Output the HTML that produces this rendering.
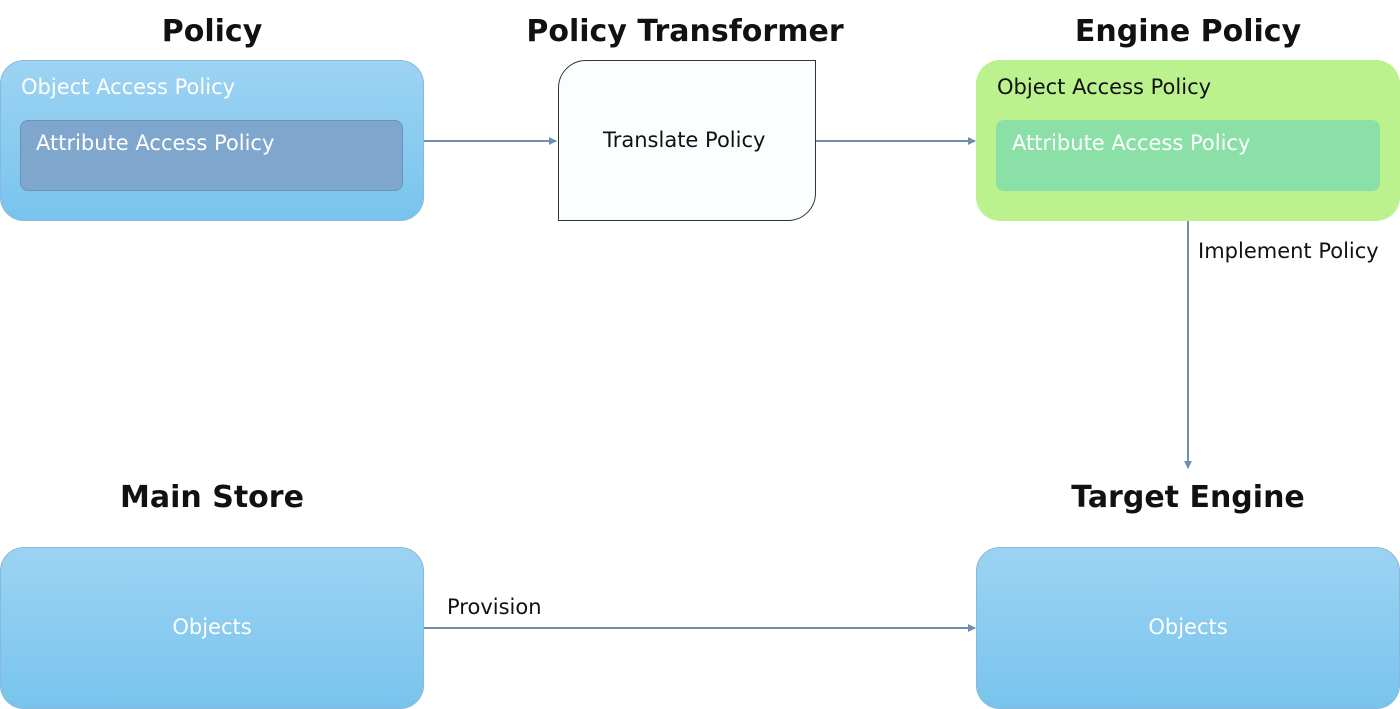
<!DOCTYPE html>
<html><head><style>
body{margin:0;width:1400px;height:709px;background:#fff;position:relative;overflow:hidden;font-family:"DejaVu Sans","Liberation Sans",sans-serif}
.t{position:absolute;font-weight:bold;font-size:30px;color:#111;transform:translateX(-50%);white-space:nowrap}
.b{position:absolute;box-sizing:border-box}
.blue{background:linear-gradient(#9dd3f3,#78c4ee);border:1px solid #8ab8d8;border-radius:24px}
.lbl{position:absolute;font-size:21px;white-space:nowrap}
</style></head><body>
<div class="t" style="left:212px;top:14px">Policy</div>
<div class="t" style="left:685px;top:14px">Policy Transformer</div>
<div class="t" style="left:1188px;top:14px">Engine Policy</div>
<div class="t" style="left:212px;top:480px">Main Store</div>
<div class="t" style="left:1188px;top:480px">Target Engine</div>

<div class="b blue" style="left:0;top:60px;width:424px;height:161px"></div>
<div class="lbl" style="left:21px;top:75px;color:#fff">Object Access Policy</div>
<div class="b" style="left:20px;top:120px;width:383px;height:71px;background:#7fa6cc;border:1px solid #6f93b8;border-radius:8px"></div>
<div class="lbl" style="left:36px;top:131px;color:#fff">Attribute Access Policy</div>

<div class="b" style="left:558px;top:60px;width:258px;height:161px;background:#fbfefe;border:1px solid #333;border-radius:28px 0 28px 0"></div>
<div class="lbl" style="left:603px;top:128px;color:#111">Translate Policy</div>

<div class="b" style="left:976px;top:60px;width:424px;height:161px;background:#bcf28d;border-radius:24px"></div>
<div class="lbl" style="left:997px;top:75px;color:#111">Object Access Policy</div>
<div class="b" style="left:996px;top:120px;width:384px;height:71px;background:#8ae0a6;border-radius:8px"></div>
<div class="lbl" style="left:1012px;top:131px;color:#fff">Attribute Access Policy</div>

<div class="b blue" style="left:0;top:547px;width:424px;height:162px"></div>
<div class="lbl" style="left:0;width:424px;text-align:center;top:615px;color:#fff">Objects</div>
<div class="b blue" style="left:976px;top:547px;width:424px;height:162px"></div>
<div class="lbl" style="left:976px;width:424px;text-align:center;top:615px;color:#fff">Objects</div>

<div class="lbl" style="left:1198px;top:239px;color:#111">Implement Policy</div>
<div class="lbl" style="left:447px;top:595px;color:#111">Provision</div>

<svg width="1400" height="709" style="position:absolute;left:0;top:0">
<defs><marker id="a" markerWidth="8" markerHeight="8" refX="7" refY="4" orient="auto" markerUnits="userSpaceOnUse"><path d="M0,0 L8,4 L0,8 z" fill="#6f8fb0"/></marker></defs>
<g stroke="#6f8fb0" stroke-width="2" fill="none">
<line x1="424" y1="141" x2="556" y2="141" marker-end="url(#a)"/>
<line x1="816" y1="141" x2="975" y2="141" marker-end="url(#a)"/>
<line x1="1188" y1="221" x2="1188" y2="468" marker-end="url(#a)"/>
<line x1="424" y1="628" x2="975" y2="628" marker-end="url(#a)"/>
</g></svg>
</body></html>
